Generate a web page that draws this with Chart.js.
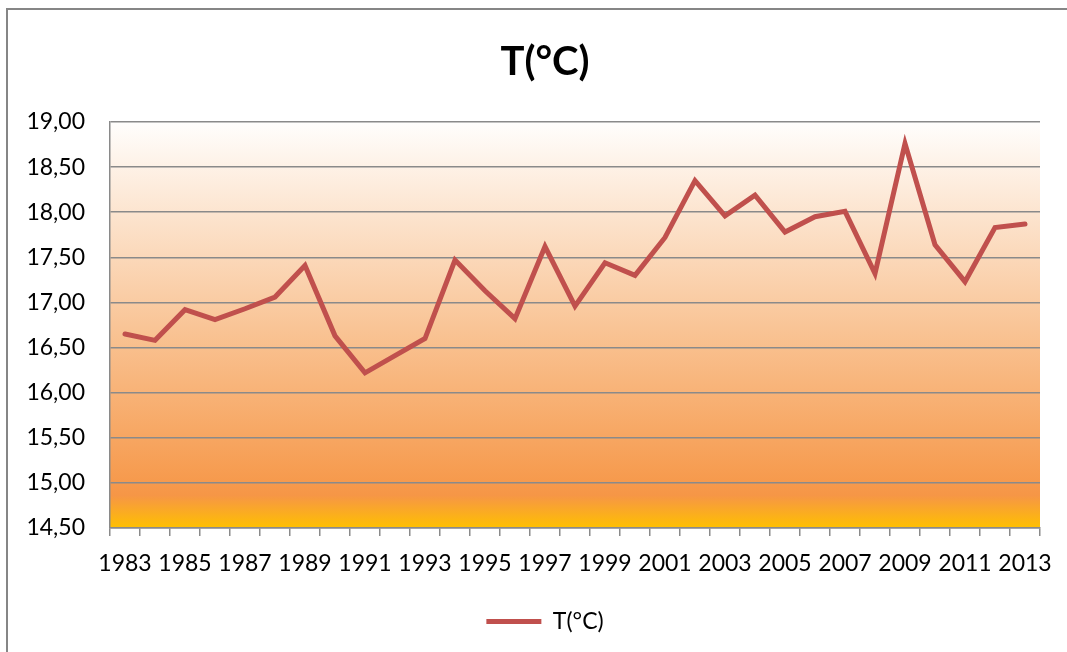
<!DOCTYPE html>
<html>
<head>
<meta charset="utf-8">
<script src="https://cdn.jsdelivr.net/npm/chart.js@4"></script>
<style>
    html, body { margin: 0; padding: 0; background: #fff; overflow: hidden; }
    #wrap { position: relative; width: 1067px; height: 652px; overflow: hidden; }
    #frame {
        position: absolute; left: 6px; top: 8px; width: 1200px; height: 800px;
        border: 2px solid #868686; pointer-events: none;
    }
    #box { position: absolute; left: 0; top: 0; width: 1090px; height: 652px; }
</style>
</head>
<body>
<div id="wrap">
    <div id="box"><canvas id="chart"></canvas></div>
    <div id="frame"></div>
</div>
<script>
const years = [
    "1983", "1984", "1985", "1986", "1987", "1988", "1989", "1990", "1991", "1992",
    "1993", "1994", "1995", "1996", "1997", "1998", "1999", "2000", "2001", "2002",
    "2003", "2004", "2005", "2006", "2007", "2008", "2009", "2010", "2011", "2012", "2013",
];
const temperature = [
    16.65, 16.58, 16.92, 16.81, 16.93, 17.06, 17.41, 16.63, 16.22, 16.41,
    16.60, 17.47, 17.13, 16.82, 17.62, 16.96, 17.44, 17.30, 17.72, 18.35,
    17.96, 18.19, 17.78, 17.95, 18.01, 17.32, 18.76, 17.64, 17.23, 17.83, 17.87,
];
const yMin = 14.5;
const yMax = 19;
const yStep = 0.5;

const gridGray = "#8a8a8a";
const fontFamily = "Lato, 'Open Sans', sans-serif";

// fill the plot area with the white -> orange -> yellow gradient
const plotBackground = {
    id: "plotBackground",
    beforeDraw(chart) {
        const { ctx, chartArea } = chart;
        if (!chartArea) return;
        const g = ctx.createLinearGradient(0, chartArea.top, 0, chartArea.bottom);
        g.addColorStop(0, "#fffefd");
        g.addColorStop(0.5, "#f9c597");
        g.addColorStop(0.92, "#f69646");
        g.addColorStop(1, "#ffc000");
        ctx.save();
        ctx.fillStyle = g;
        ctx.fillRect(chartArea.left, chartArea.top,
            chartArea.right - chartArea.left, chartArea.bottom - chartArea.top);
        ctx.restore();
    },
};

const ctx = document.getElementById("chart");
new Chart(ctx, {
    type: "line",
    data: {
        labels: years,
        datasets: [
            {
                label: "T(°C)",
                data: temperature,
                borderColor: "#c0504d",
                backgroundColor: "#c0504d",
                borderWidth: 5,
                borderCapStyle: "round",
                borderJoinStyle: "miter",
                pointRadius: 0,
                pointHoverRadius: 0,
                tension: 0,
                yAxisID: "y",
            },
        ],
    },
    options: {
        responsive: true,
        maintainAspectRatio: false,
        animation: false,
        layout: { padding: { left: 0, right: 0, top: 0, bottom: 9 } },
        scales: {
            x: {
                offset: true,
                grid: {
                    display: true,
                    offset: true,
                    drawOnChartArea: false,
                    drawTicks: true,
                    tickLength: 8,
                    color: gridGray,
                    lineWidth: 1.5,
                },
                border: { display: true, color: gridGray, width: 1.5 },
                ticks: {
                    autoSkip: false,
                    maxRotation: 0,
                    minRotation: 0,
                    padding: 14,
                    color: "#000",
                    font: { family: fontFamily, size: 23 },
                    callback: (value, index) => (index % 2 === 0 ? years[index] : ""),
                },
                afterFit: (scale) => { scale.height = 72; },
            },
            y: {
                min: yMin,
                max: yMax,
                grid: {
                    color: gridGray,
                    lineWidth: 1.5,
                    drawTicks: false,
                },
                border: { display: true, color: gridGray, width: 1.5 },
                ticks: {
                    stepSize: yStep,
                    padding: 25,
                    color: "#000",
                    font: { family: fontFamily, size: 23 },
                    callback: (value) => value.toFixed(2).replace(".", ","),
                },
                afterFit: (scale) => { scale.width = 110; },
            },
            spacer: {
                position: "right",
                display: true,
                grid: { display: false },
                border: { display: false },
                ticks: { display: false },
                afterFit: (scale) => { scale.width = 50; },
            },
        },
        plugins: {
            title: {
                display: true,
                text: "T(°C)",
                color: "#000",
                font: { family: fontFamily, size: 40, weight: "bold" },
                padding: { top: 38, bottom: 36 },
            },
            legend: {
                display: true,
                position: "bottom",
                labels: {
                    usePointStyle: true,
                    pointStyle: "line",
                    pointStyleWidth: 55,
                    color: "#000",
                    padding: 10,
                    font: { family: fontFamily, size: 23 },
                },
            },
            tooltip: { enabled: false },
        },
    },
    plugins: [plotBackground],
});
</script>
</body>
</html>
